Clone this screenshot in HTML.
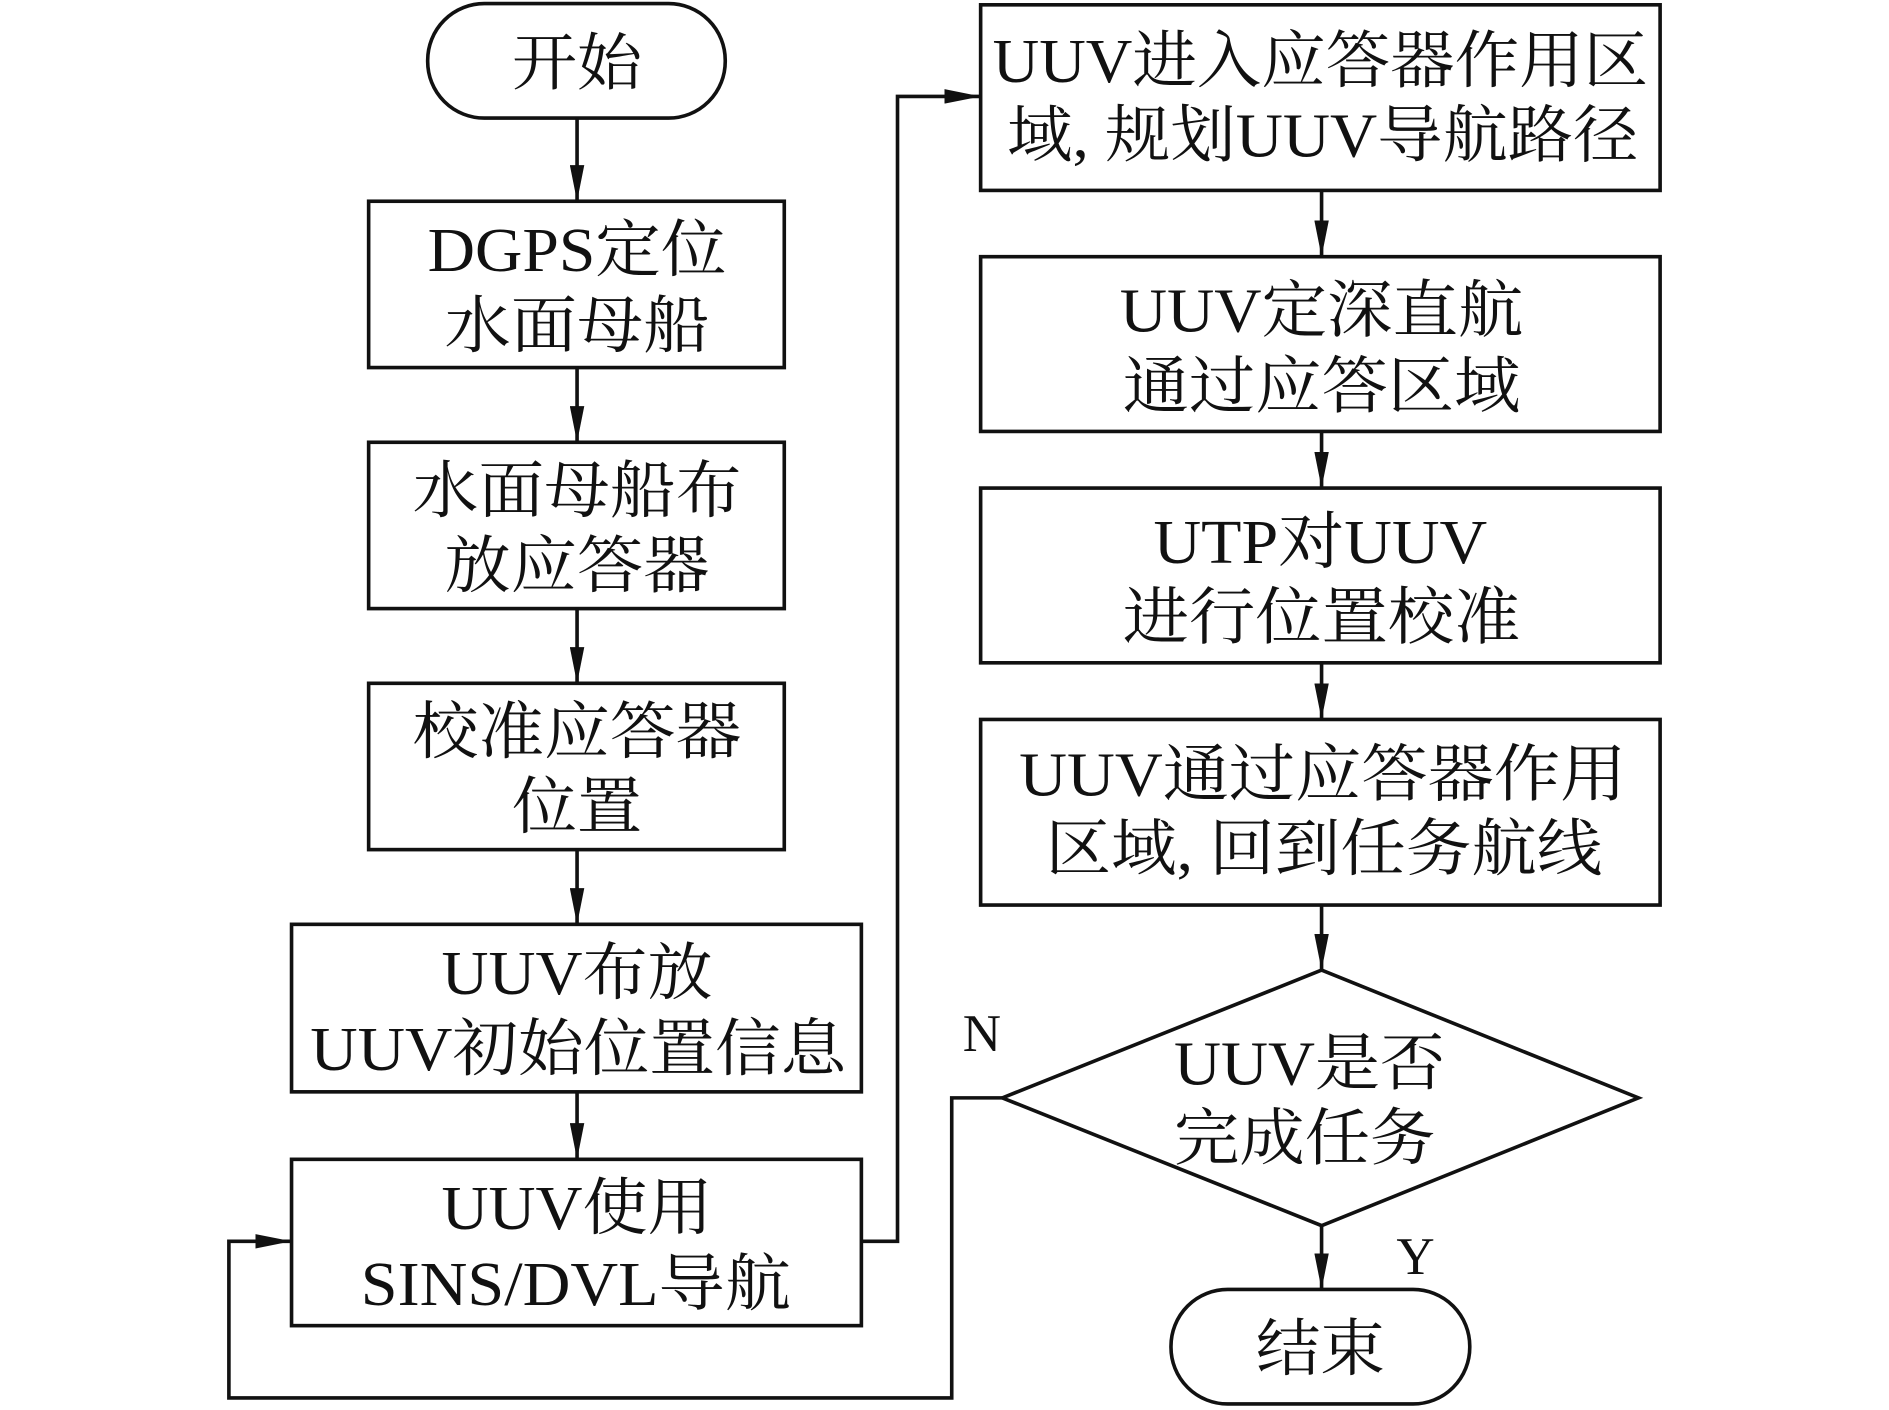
<!DOCTYPE html>
<html><head><meta charset="utf-8"><style>
html,body{margin:0;padding:0;background:#fff;}
svg{display:block;}
text{font-family:"Liberation Serif","Noto Serif CJK SC",serif;font-size:52px;fill:#111;text-anchor:middle;}
</style></head><body>
<svg width="1889" height="1410" viewBox="0 0 1568 1170" preserveAspectRatio="none" xmlns="http://www.w3.org/2000/svg">
<defs><marker id="a" markerWidth="10" markerHeight="10" refX="9" refY="5" orient="auto" markerUnits="userSpaceOnUse" viewBox="0 0 10 10"><path d="M0,0 L10,5 L0,10 z" fill="#111"/></marker>
<marker id="b" markerWidth="30" markerHeight="12" refX="30" refY="6" orient="auto" markerUnits="userSpaceOnUse"><path d="M0,0 L30,6 L0,12 z" fill="#111"/></marker></defs>
<g fill="none" stroke="#111" stroke-width="3">
<rect x="355" y="3" width="247" height="95" rx="47"/>
<rect x="306" y="167" width="345" height="138"/>
<rect x="306" y="367" width="345" height="138"/>
<rect x="306" y="567" width="345" height="138"/>
<rect x="242" y="767" width="473" height="139"/>
<rect x="242" y="962" width="473" height="138"/>
<rect x="814" y="4" width="564" height="154"/>
<rect x="814" y="213" width="564" height="145"/>
<rect x="814" y="405" width="564" height="145"/>
<rect x="814" y="597" width="564" height="154"/>
<polygon points="832,911 1097,805 1360,911 1097,1017"/>
<rect x="972" y="1070" width="248" height="95" rx="47"/>
<g marker-end="url(#b)">
<line x1="479" y1="98" x2="479" y2="167"/>
<line x1="479" y1="305" x2="479" y2="367"/>
<line x1="479" y1="505" x2="479" y2="567"/>
<line x1="479" y1="705" x2="479" y2="767"/>
<line x1="479" y1="906" x2="479" y2="962"/>
<line x1="1097" y1="158" x2="1097" y2="213"/>
<line x1="1097" y1="358" x2="1097" y2="405"/>
<line x1="1097" y1="550" x2="1097" y2="597"/>
<line x1="1097" y1="751" x2="1097" y2="805"/>
<line x1="1097" y1="1017" x2="1097" y2="1070"/>
<polyline points="715,1030 745,1030 745,80 814,80"/>
<polyline points="832,911 790,911 790,1160 190,1160 190,1030 242,1030"/>
</g>
</g>
<g>
<text x="479" y="70" textLength="108" lengthAdjust="spacingAndGlyphs">开始</text>
<text x="479" y="225" textLength="248" lengthAdjust="spacingAndGlyphs">DGPS定位</text>
<text x="479" y="288" textLength="220" lengthAdjust="spacingAndGlyphs">水面母船</text>
<text x="479" y="425" textLength="273" lengthAdjust="spacingAndGlyphs">水面母船布</text>
<text x="479" y="487" textLength="220" lengthAdjust="spacingAndGlyphs">放应答器</text>
<text x="479" y="625" textLength="273" lengthAdjust="spacingAndGlyphs">校准应答器</text>
<text x="479" y="687" textLength="108" lengthAdjust="spacingAndGlyphs">位置</text>
<text x="479" y="825" textLength="225" lengthAdjust="spacingAndGlyphs">UUV布放</text>
<text x="480" y="888" textLength="445" lengthAdjust="spacingAndGlyphs">UUV初始位置信息</text>
<text x="479" y="1020" textLength="225" lengthAdjust="spacingAndGlyphs">UUV使用</text>
<text x="478" y="1083" textLength="357" lengthAdjust="spacingAndGlyphs">SINS/DVL导航</text>
<text x="1096" y="68" textLength="544" lengthAdjust="spacingAndGlyphs">UUV进入应答器作用区</text>
<text x="1098" y="130" textLength="524" lengthAdjust="spacingAndGlyphs">域, 规划UUV导航路径</text>
<text x="1097" y="275" textLength="335" lengthAdjust="spacingAndGlyphs">UUV定深直航</text>
<text x="1097" y="338" textLength="330" lengthAdjust="spacingAndGlyphs">通过应答区域</text>
<text x="1096" y="467" textLength="277" lengthAdjust="spacingAndGlyphs">UTP对UUV</text>
<text x="1097" y="530" textLength="330" lengthAdjust="spacingAndGlyphs">进行位置校准</text>
<text x="1098" y="660" textLength="504" lengthAdjust="spacingAndGlyphs">UUV通过应答器作用</text>
<text x="1099" y="722" textLength="462" lengthAdjust="spacingAndGlyphs">区域, 回到任务航线</text>
<text x="1087" y="900" textLength="225" lengthAdjust="spacingAndGlyphs">UUV是否</text>
<text x="1083" y="962" textLength="217" lengthAdjust="spacingAndGlyphs">完成任务</text>
<text x="1096" y="1137" textLength="107" lengthAdjust="spacingAndGlyphs">结束</text>
<text x="815" y="872" style="font-size:44px">N</text>
<text x="1175" y="1057" style="font-size:44px">Y</text>
</g>
</svg>
</body></html>
